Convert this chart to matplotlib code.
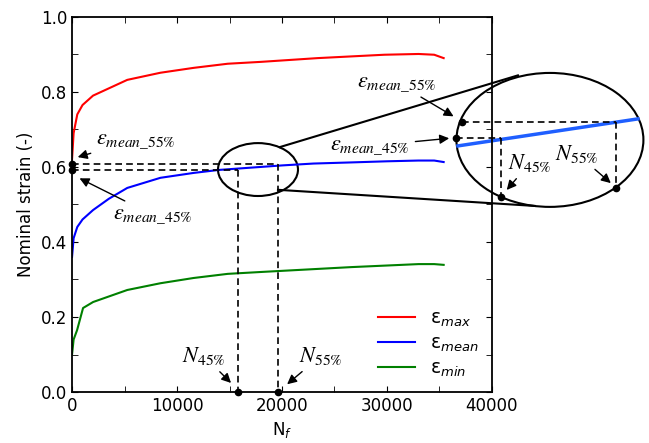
import matplotlib.pyplot as plt
from matplotlib.patches import Ellipse
from matplotlib.ticker import MultipleLocator

# strain curves
n_max = [0, 150, 500, 1000, 2000, 5260, 8420, 11580, 14830, 18000, 23400, 29760, 33010, 34500, 35400]
e_max = [0.62, 0.69, 0.74, 0.765, 0.79, 0.832, 0.851, 0.864, 0.875, 0.880, 0.890, 0.899, 0.901, 0.899, 0.890]

n_mean = [0, 150, 500, 1000, 2000, 3500, 5260, 8420, 11580, 14000, 17000, 20000, 23000, 26600, 30000, 33000, 34500, 35400]
e_mean = [0.36, 0.41, 0.44, 0.46, 0.485, 0.515, 0.544, 0.571, 0.584, 0.592, 0.598, 0.604, 0.609, 0.612, 0.615, 0.617, 0.617, 0.613]

n_min = [0, 150, 480, 1050, 2010, 5260, 8420, 11580, 14830, 17990, 26600, 33010, 34500, 35400]
e_min = [0.10, 0.14, 0.165, 0.224, 0.240, 0.272, 0.290, 0.304, 0.315, 0.320, 0.333, 0.341, 0.341, 0.339]

# reference points
N45, N55 = 15800, 19600
eps45, eps55 = 0.592, 0.609

# zoomed detail (drawn outside the axes)
zoom_line_x = [36762, 53905]
zoom_line_y = [0.656, 0.728]
zN45, zN55 = 40857, 51810
zeps45, zeps55 = 0.677, 0.720
zN45_bot, zN55_bot = 0.520, 0.544

fig = plt.figure(figsize=(6.49, 4.43), dpi=100)
ax = fig.add_axes([0.111, 0.115, 0.647, 0.847])

ax.plot(n_max, e_max, color="red", lw=1.5, label=r"ε$_{max}$")
ax.plot(n_mean, e_mean, color="blue", lw=1.5, label=r"ε$_{mean}$")
ax.plot(n_min, e_min, color="green", lw=1.5, label=r"ε$_{min}$")

dash = dict(color="black", ls="--", lw=1.2, dashes=(4, 2.5))
ax.plot([0, N55], [eps55, eps55], **dash)
ax.plot([0, N45], [eps45, eps45], **dash)
ax.plot([N45, N45], [eps45, 0], **dash)
ax.plot([N55, N55], [eps55, 0], **dash)
ax.plot([0, 0, N45, N55], [eps55, eps45, 0, 0], "o", color="black", ms=4.5, clip_on=False, zorder=5)

# small ellipse and big zoom ellipse
ax.add_patch(Ellipse((17714, 0.593), 7619, 0.141, fill=False, lw=1.5, ec="black", clip_on=False))
ax.add_patch(Ellipse((45524, 0.672), 17810, 0.357, fill=False, lw=1.5, ec="black", clip_on=False))
ax.plot([19810, 42476], [0.653, 0.844], color="black", lw=1.5, clip_on=False)
ax.plot([19619, 44095], [0.539, 0.496], color="black", lw=1.5, clip_on=False)

ax.plot(zoom_line_x, zoom_line_y, color="#1f5fff", lw=2.5, clip_on=False)
ax.plot([37143, zN55], [zeps55, zeps55], clip_on=False, **dash)
ax.plot([36571, zN45], [zeps45, zeps45], clip_on=False, **dash)
ax.plot([zN45, zN45], [zeps45, zN45_bot], clip_on=False, **dash)
ax.plot([zN55, zN55], [zeps55, zN55_bot], clip_on=False, **dash)
ax.plot([37143, 36571, zN45, zN55], [zeps55, zeps45, zN45_bot, zN55_bot], "o",
        color="black", ms=4.5, clip_on=False, zorder=5)

arrow = dict(arrowstyle="-|>", color="black", lw=1.0, mutation_scale=14)
lab = dict(fontsize=16, math_fontfamily="stix", annotation_clip=False)
ax.annotate(r"$\varepsilon_{mean\_55\%}$", xy=(286, 0.624), xytext=(2300, 0.672),
            va="center", ha="left", arrowprops=arrow, **lab)
ax.annotate(r"$\varepsilon_{mean\_45\%}$", xy=(476, 0.573), xytext=(3900, 0.472),
            va="center", ha="left", arrowprops=arrow, **lab)
ax.annotate(r"$N_{45\%}$", xy=(15333, 0.019), xytext=(12571, 0.096),
            va="center", ha="center", arrowprops=arrow, **lab)
ax.annotate(r"$N_{55\%}$", xy=(20286, 0.016), xytext=(21600, 0.096),
            va="center", ha="left", arrowprops=arrow, **lab)
ax.annotate(r"$\varepsilon_{mean\_55\%}$", xy=(36571, 0.731), xytext=(30952, 0.824),
            va="center", ha="center", arrowprops=arrow, **lab)
ax.annotate(r"$\varepsilon_{mean\_45\%}$", xy=(36190, 0.677), xytext=(28381, 0.656),
            va="center", ha="center", arrowprops=arrow, **lab)
ax.annotate(r"$N_{45\%}$", xy=(41238, 0.533), xytext=(43619, 0.611),
            va="center", ha="center", arrowprops=arrow, **lab)
ax.annotate(r"$N_{55\%}$", xy=(51524, 0.552), xytext=(48095, 0.635),
            va="center", ha="center", arrowprops=arrow, **lab)

ax.set_xlim(0, 40000)
ax.set_ylim(0, 1.0)
ax.xaxis.set_major_locator(MultipleLocator(10000))
ax.xaxis.set_minor_locator(MultipleLocator(5000))
ax.yaxis.set_major_locator(MultipleLocator(0.2))
ax.yaxis.set_minor_locator(MultipleLocator(0.1))
ax.tick_params(which="both", direction="in", top=True, right=True, length=4, labelsize=12)
for s in ax.spines.values():
    s.set_linewidth(1.3)
ax.set_xlabel(r"N$_f$", fontsize=12)
ax.set_ylabel("Nominal strain (-)", fontsize=12)

ax.legend(loc="lower right", frameon=False, fontsize=13.5, handlelength=2.0,
          borderaxespad=0.3, labelspacing=0.25)

fig.savefig("out.png", dpi=100)
